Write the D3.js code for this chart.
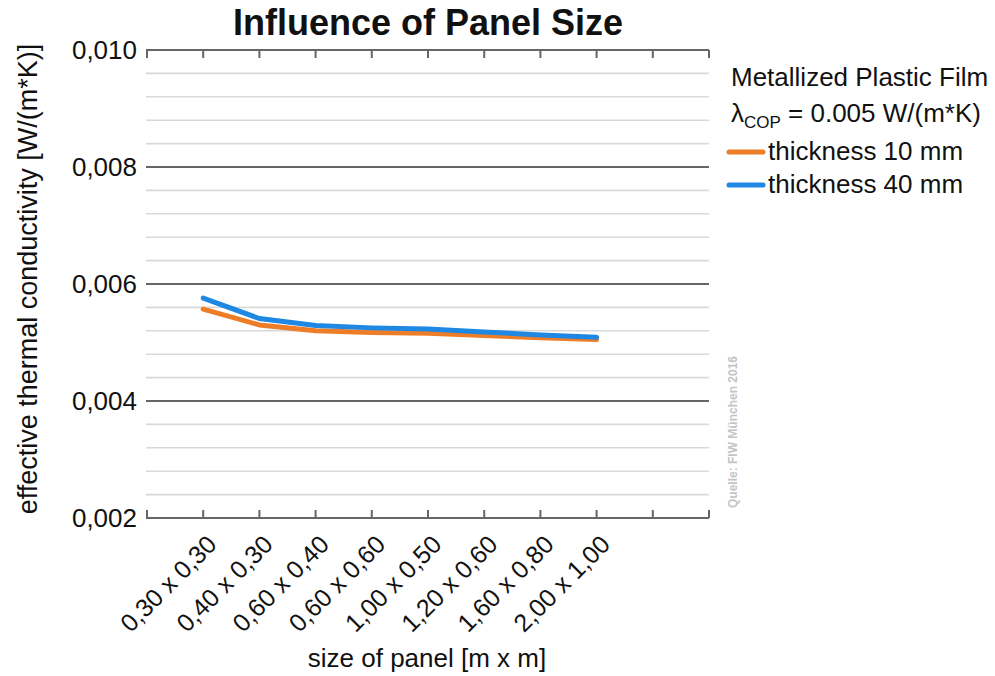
<!DOCTYPE html>
<meta charset="utf-8">
<body style="margin:0;background:#fff">
<style>
    text { font-family: "Liberation Sans", Arial, sans-serif; fill: #111; }
</style>
<script src="https://d3js.org/d3.v7.min.js"></script>
<script>
    // data
    const categories = ["0,30 x 0,30", "0,40 x 0,30", "0,60 x 0,40", "0,60 x 0,60",
                        "1,00 x 0,50", "1,20 x 0,60", "1,60 x 0,80", "2,00 x 1,00"];
    const thick10 = [0.00557, 0.00530, 0.00520, 0.00517, 0.00516, 0.00512, 0.00508, 0.00505];
    const thick40 = [0.00576, 0.00541, 0.00529, 0.00525, 0.00523, 0.00518, 0.00513, 0.00509];
    const yTicks = [0.002, 0.004, 0.006, 0.008, 0.010];
    const yTickLabels = ["0,002", "0,004", "0,006", "0,008", "0,010"];
    const slots = 10; // x axis has 10 intervals, data fills slots 1..8

    const W = 995, H = 676;
    const plotLeft = 147, plotRight = 709, plotTop = 50, plotBottom = 518;

    const svg = d3.select("body").append("svg")
        .attr("width", W).attr("height", H);

    const x = d3.scaleLinear().domain([0, slots]).range([plotLeft, plotRight]);
    const y = d3.scaleLinear().domain([0.002, 0.010]).range([plotBottom, plotTop]);

    // minor grid
    const minor = d3.range(0.0024, 0.0099, 0.0004).filter(v => Math.abs(v / 0.002 - Math.round(v / 0.002)) > 0.01);
    svg.append("g").selectAll("line").data(minor).enter().append("line")
        .attr("x1", plotLeft - 1).attr("x2", plotRight)
        .attr("y1", d => y(d)).attr("y2", d => y(d))
        .attr("stroke", "#d9d9d9").attr("stroke-width", 1.6);

    // major grid
    svg.append("g").selectAll("line").data(yTicks).enter().append("line")
        .attr("x1", plotLeft - 1).attr("x2", plotRight)
        .attr("y1", d => y(d)).attr("y2", d => y(d))
        .attr("stroke", "#666").attr("stroke-width", 2.2);

    // x ticks on top (down) and bottom (up)
    const xt = d3.range(0, slots + 1);
    svg.append("g").selectAll("line").data(xt).enter().append("line")
        .attr("x1", d => x(d)).attr("x2", d => x(d))
        .attr("y1", y(0.010)).attr("y2", y(0.010) + 8)
        .attr("stroke", "#666").attr("stroke-width", 2);
    svg.append("g").selectAll("line").data(xt).enter().append("line")
        .attr("x1", d => x(d)).attr("x2", d => x(d))
        .attr("y1", y(0.002)).attr("y2", y(0.002) - 8)
        .attr("stroke", "#666").attr("stroke-width", 2);

    // y tick labels
    svg.append("g").selectAll("text").data(yTicks).enter().append("text")
        .attr("x", 137).attr("y", d => y(d)).attr("dy", "0.36em")
        .attr("text-anchor", "end").attr("font-size", 26)
        .text((d, i) => yTickLabels[i]);

    // x tick labels, rotated
    svg.append("g").selectAll("text").data(categories).enter().append("text")
        .attr("transform", (d, i) => "translate(" + (x(i + 1) + 15) + "," + 546 + ") rotate(-45)")
        .attr("text-anchor", "end").attr("font-size", 25)
        .text(d => d);

    // lines
    const line = d3.line().x((d, i) => x(i + 1)).y(d => y(d));
    svg.append("path").datum(thick10).attr("d", line)
        .attr("fill", "none").attr("stroke", "#ee7d28").attr("stroke-width", 5)
        .attr("stroke-linecap", "round").attr("stroke-linejoin", "round");
    svg.append("path").datum(thick40).attr("d", line)
        .attr("fill", "none").attr("stroke", "#1f88e3").attr("stroke-width", 5)
        .attr("stroke-linecap", "round").attr("stroke-linejoin", "round");

    // title
    svg.append("text").attr("x", 428).attr("y", 35).attr("text-anchor", "middle")
        .attr("font-size", 36).attr("font-weight", "bold").text("Influence of Panel Size");

    // axis titles
    svg.append("text").attr("transform", "translate(37,279) rotate(-90)")
        .attr("text-anchor", "middle").attr("font-size", 27)
        .text("effective thermal conductivity [W/(m*K)]");
    svg.append("text").attr("x", 427).attr("y", 667).attr("text-anchor", "middle")
        .attr("font-size", 26).text("size of panel [m x m]");

    // watermark
    svg.append("text").attr("transform", "translate(737,432) rotate(-90)")
        .attr("text-anchor", "middle").attr("font-size", 12).attr("font-weight", "bold")
        .style("fill", "#c4c4c4").text("Quelle: FIW München 2016");

    // legend
    const lg = svg.append("g");
    lg.append("text").attr("x", 731).attr("y", 86).attr("font-size", 26).text("Metallized Plastic Film");
    const lam = lg.append("text").attr("x", 731).attr("y", 122).attr("font-size", 26);
    lam.append("tspan").text("λ");
    lam.append("tspan").attr("font-size", 17).attr("dy", 6).text("COP");
    lam.append("tspan").attr("dy", -6).text(" = 0.005 W/(m*K)");

    const series = [{name: "thickness 10 mm", color: "#ee7d28"}, {name: "thickness 40 mm", color: "#1f88e3"}];
    series.forEach((s, i) => {
        const yy = 152 + i * 33;
        lg.append("line").attr("x1", 729).attr("x2", 763).attr("y1", yy).attr("y2", yy)
            .attr("stroke", s.color).attr("stroke-width", 5).attr("stroke-linecap", "round");
        lg.append("text").attr("x", 768).attr("y", yy + 8).attr("font-size", 26).text(s.name);
    });
</script>
</body>
